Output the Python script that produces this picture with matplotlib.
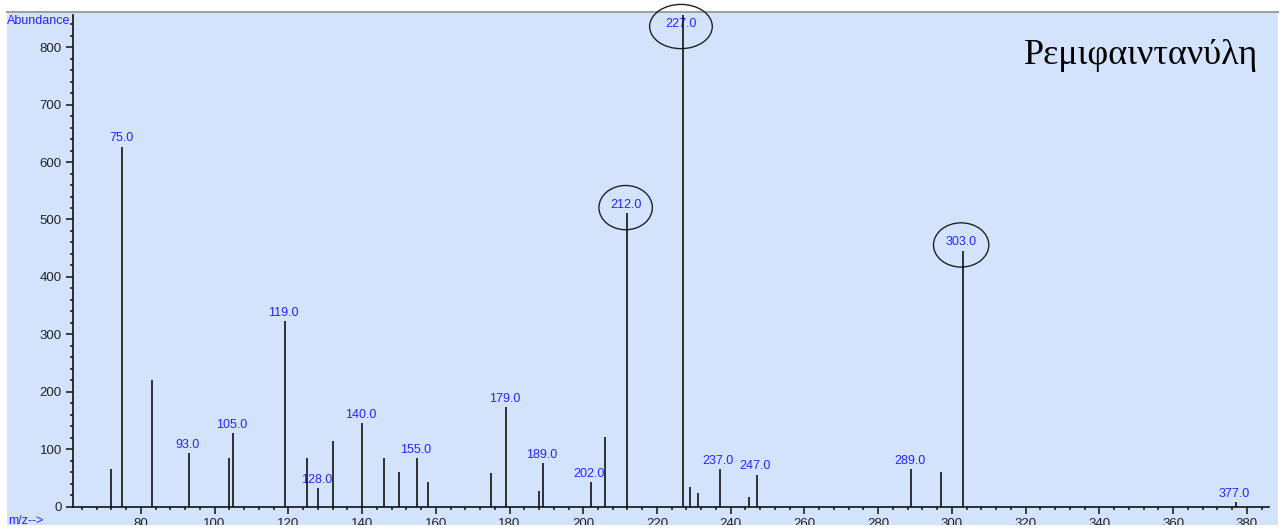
import matplotlib
matplotlib.use("Agg")
import matplotlib.pyplot as plt
from matplotlib.patches import Ellipse, Rectangle
from matplotlib.lines import Line2D
from matplotlib.ticker import MultipleLocator

# mass spectrum peaks (m/z, abundance)
mz = [72, 75, 83, 93, 104, 105, 119, 125, 128, 132, 140, 146, 150, 155, 158,
      175, 179, 188, 189, 202, 206, 212, 227, 229, 231, 237, 245, 247,
      289, 297, 303, 377]
abundance = [65, 627, 221, 93, 84, 128, 323, 84, 32, 115, 145, 84, 60, 84, 43,
             58, 173, 28, 76, 43, 121, 511, 860, 35, 23, 65, 17, 56,
             65, 60, 446, 8]
labeled = [75, 93, 105, 119, 128, 140, 155, 179, 189, 202, 212, 227, 237, 247,
           289, 303, 377]
circled = [212, 227, 303]
title = "Ρεμιφαιντανύλη"

BLUE_BG = "#d3e3fb"
LABEL_C = "#2424ff"
W, H = 1282, 531

plt.rcParams["font.family"] = ["Liberation Sans", "DejaVu Sans"]

def fx(px): return px / W
def fy(py): return 1 - py / H

fig = plt.figure(figsize=(W / 100, H / 100), dpi=100)
fig.patch.set_facecolor("white")
fig.add_artist(Rectangle((fx(7), fy(526)), fx(1278) - fx(7), fy(12) - fy(526),
                         transform=fig.transFigure, facecolor=BLUE_BG,
                         edgecolor="none", zorder=-10))
fig.add_artist(Line2D([fx(7), fx(1278)], [fy(12), fy(12)], transform=fig.transFigure,
                      color="#a0a0a0", lw=1.5, zorder=-5))

ax = fig.add_axes([fx(73), fy(506.7), fx(1269) - fx(73), fy(15) - fy(506.7)])
ax.set_facecolor("none")
ymax = 856
ax.set_xlim(61.6, 386.0)
ax.set_ylim(0, ymax)
ax.vlines(mz, 0, abundance, color="black", lw=1.1, zorder=3)

for s in ("top", "right"):
    ax.spines[s].set_visible(False)
for s in ("left", "bottom"):
    ax.spines[s].set_linewidth(1.2)
    ax.spines[s].set_color("#111111")

ax.xaxis.set_major_locator(MultipleLocator(20))
ax.xaxis.set_minor_locator(MultipleLocator(4))
ax.yaxis.set_major_locator(MultipleLocator(100))
ax.yaxis.set_minor_locator(MultipleLocator(20))
ax.tick_params(which="major", length=5, width=1.1, color="#111111",
               labelsize=9.5, labelcolor="#222222", pad=3)
ax.tick_params(which="minor", length=2.5, width=1.1, color="#111111")

# peak labels and circled peaks
ell_w = {212: 14.5, 227: 17.0, 303: 15.0}
for m, v in zip(mz, abundance):
    if m not in labeled:
        continue
    if v >= ymax:
        y, off = ymax, -6.5
    else:
        y, off = v, 5.8
    ax.annotate(f"{m:.1f}", (m, y), xytext=(-1, off), textcoords="offset points",
                ha="center", va="center", color=LABEL_C, fontsize=9, zorder=2)
    if m in circled:
        # ellipse around the label, a little below its centre
        yc = y + (off / 0.72 - 2.5) / 0.5743
        ax.add_patch(Ellipse((m - 0.5, yc), ell_w[m], 77, fill=False, ec="#222222",
                             lw=1.0, clip_on=False, zorder=2))

fig.text(fx(7), fy(21), "Abundance", color=LABEL_C, fontsize=9, ha="left", va="center")
fig.text(fx(8), fy(521), "m/z-->", color=LABEL_C, fontsize=9, ha="left", va="center")
fig.text(fx(1258), fy(64), title, family=["Liberation Serif", "DejaVu Serif"],
         fontsize=26, ha="right", va="baseline", color="black")

# the screenshot is cut off just below the tick labels
fig.add_artist(Rectangle((0, 0), 1, 6 / H, transform=fig.transFigure,
                         facecolor="white", edgecolor="none", zorder=10))

fig.savefig("out.png", dpi=100)
